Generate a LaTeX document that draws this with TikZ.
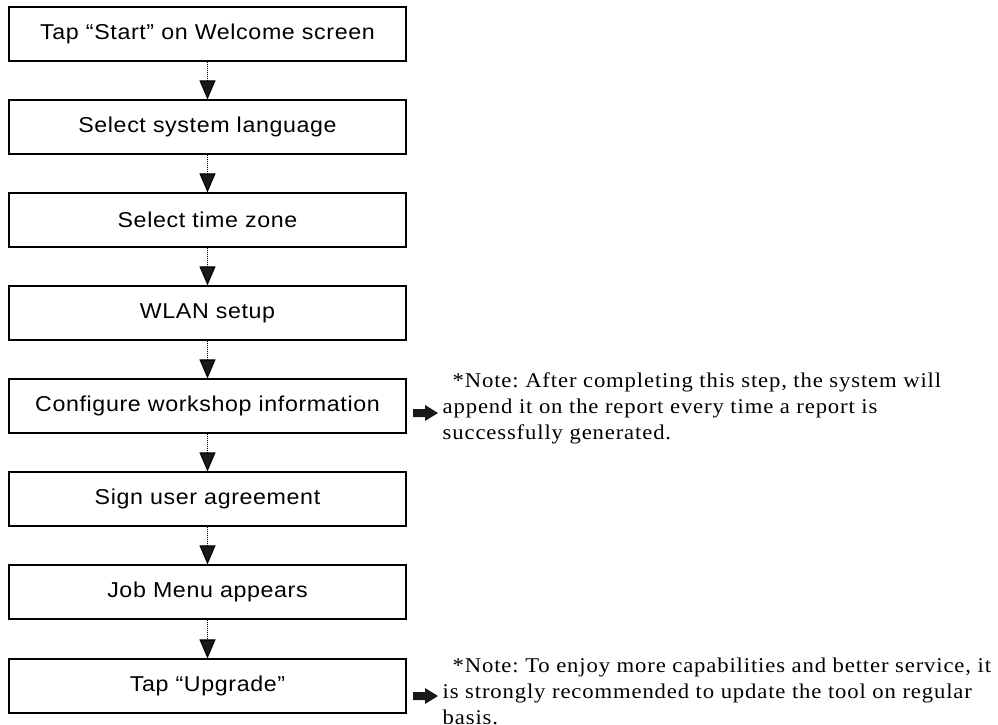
\documentclass[tikz,border=0pt]{standalone}
\usepackage{fontspec}
\setmainfont{Liberation Serif}[FakeStretch=1.08, LetterSpace=4.1]
\newfontfamily\boxfont{Liberation Sans}[FakeStretch=1.08, LetterSpace=2.9]
\usetikzlibrary{arrows.meta}

\tikzset{
  stepbox/.style={draw, line width=1.2pt, minimum width=397pt, minimum height=54pt,
    inner sep=0pt, font=\boxfont\fontsize{21.5}{24}\selectfont},
  flow/.style={line width=1.1pt, dash pattern=on 1pt off 1pt,
    -{Triangle[length=19pt, width=16pt, fill=black!90]}},
  blockarrow/.style={fill=black!90},
  notetext/.style={anchor=west, inner sep=0pt, align=left,
    font=\fontsize{21}{26}\selectfont},
}

\begin{document}
\frenchspacing
\begin{tikzpicture}[x=1pt, y=-1pt]
  \useasboundingbox (0,0) rectangle (998,725);

  % flow steps
  \node[stepbox] (s1) at (207.5, 34) {Tap “Start” on Welcome screen};
  \node[stepbox] (s2) at (207.5,127) {Select system language};
  \node[stepbox] (s3) at (207.5,220) {Select time zone};
  \node[stepbox] (s4) at (207.5,313) {WLAN setup};
  \node[stepbox] (s5) at (207.5,406) {Configure workshop information};
  \node[stepbox] (s6) at (207.5,499) {Sign user agreement};
  \node[stepbox] (s7) at (207.5,592) {Job Menu appears};
  \node[stepbox] (s8) at (207.5,686) {Tap “Upgrade”};

  \foreach \a/\b in {s1/s2, s2/s3, s3/s4, s4/s5, s5/s6, s6/s7, s7/s8}
    \draw[flow] (\a) -- (\b);

  % notes with block arrows
  \node[notetext] (n1) at (442.5,408)
    {\hspace*{10pt}*Note: After completing this step, the system will\\
     append it on the report every time a report is\\
     successfully generated.};
  \node[notetext] (n2) at (442.5,691)
    {\hspace*{10pt}*Note: To enjoy more capabilities and better service, it\\
     is strongly recommended to update the tool on regular\\
     basis.};

  \coordinate (a1) at (413,405);
  \coordinate (a2) at (413,688);
  \foreach \c in {a1,a2}
    \fill[blockarrow] ([yshift=-4pt]\c) -- ++(12,0) -- ++(0,-4) -- ++(13,8)
      -- ++(-13,8) -- ++(0,-4) -- ++(-12,0) -- cycle;
\end{tikzpicture}
\end{document}
